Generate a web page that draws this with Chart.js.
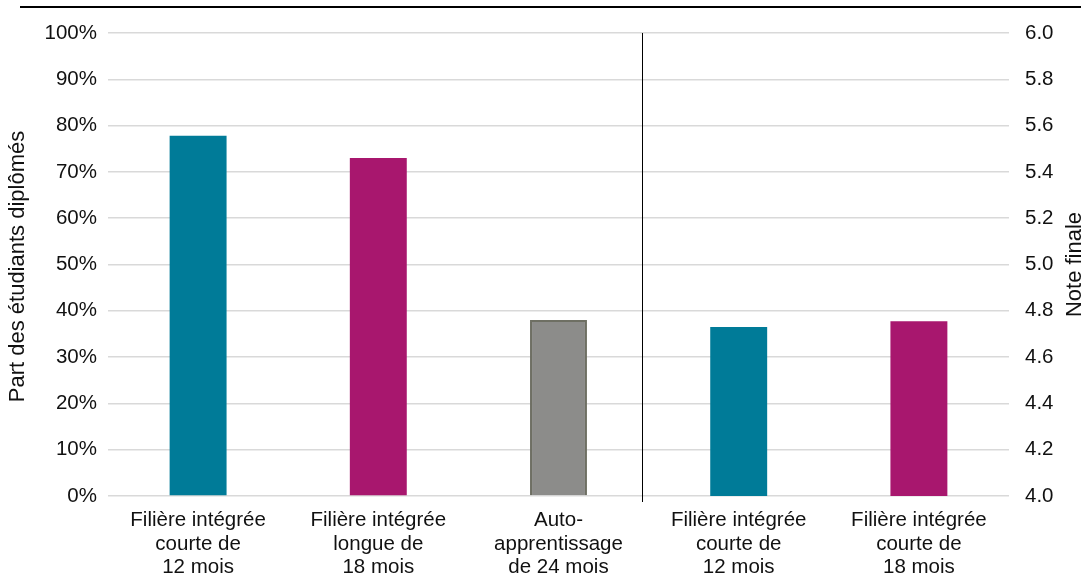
<!DOCTYPE html>
<html lang="fr">
<head>
<meta charset="utf-8">
<script src="https://cdn.jsdelivr.net/npm/chart.js@4.4.1/dist/chart.umd.min.js"></script>
<style>
  html, body { margin: 0; padding: 0; background: #fff; }
  #wrap { width: 1086px; height: 576px; position: relative; }
</style>
</head>
<body>
<div id="wrap"><canvas id="chart"></canvas></div>
<script>
const categories = [
    ['Filière intégrée', 'courte de', '12 mois'],
    ['Filière intégrée', 'longue de', '18 mois'],
    ['Auto-', 'apprentissage', 'de 24 mois'],
    ['Filière intégrée', 'courte de', '12 mois'],
    ['Filière intégrée', 'courte de', '18 mois']
];
const partDiplomes = [77.8, 73.0, 38.0, null, null];   // axe gauche (%)
const noteFinale = [null, null, null, 4.73, 4.755];    // axe droit (note)
const couleurs = ['#007b98', '#a8176e', '#8c8c8a', '#007b98', '#a8176e'];
const titreGauche = 'Part des étudiants diplômés';
const titreDroit = 'Note finale';

const police = 'Liberation Sans, Arial, sans-serif';
const texte = '#111';

// lignes de décor et titres d'axes
const decor = {
    id: 'decor',
    afterDraw(chart) {
        const ctx = chart.ctx;
        const area = chart.chartArea;
        const x = chart.scales.x;
        ctx.save();
        // filet en haut
        ctx.strokeStyle = '#000';
        ctx.lineWidth = 2;
        ctx.beginPath();
        ctx.moveTo(20, 7);
        ctx.lineTo(1081, 7);
        ctx.stroke();
        // séparateur vertical
        const sep = (x.getPixelForValue(2) + x.getPixelForValue(3)) / 2 - 7;
        ctx.lineWidth = 1;
        ctx.beginPath();
        ctx.moveTo(Math.round(sep) + 0.5, area.top);
        ctx.lineTo(Math.round(sep) + 0.5, area.bottom + 6);
        ctx.stroke();
        // titres d'axes
        ctx.fillStyle = texte;
        ctx.font = '22px ' + police;
        ctx.textAlign = 'center';
        ctx.textBaseline = 'middle';
        const cy = (area.top + area.bottom) / 2;
        ctx.translate(18, cy + 2);
        ctx.rotate(-Math.PI / 2);
        ctx.fillText(titreGauche, 0, 0);
        ctx.setTransform(1, 0, 0, 1, 0, 0);
        ctx.translate(1075, cy);
        ctx.rotate(-Math.PI / 2);
        ctx.fillText(titreDroit, 0, 0);
        ctx.restore();
    }
};

new Chart(document.getElementById('chart'), {
    type: 'bar',
    data: {
        labels: categories,
        datasets: [{
            data: partDiplomes,
            yAxisID: 'y',
            backgroundColor: couleurs,
            borderColor: ['rgba(0,0,0,0)', 'rgba(0,0,0,0)', '#6e6f63', 'rgba(0,0,0,0)', 'rgba(0,0,0,0)'],
            borderWidth: [0, 0, 2, 0, 0]
        }, {
            data: noteFinale,
            yAxisID: 'y1',
            backgroundColor: couleurs,
            borderWidth: 0
        }]
    },
    options: {
        responsive: true,
        maintainAspectRatio: false,
        animation: false,
        grouped: false,
        categoryPercentage: 1,
        barPercentage: 0.316,
        layout: { padding: { top: 33, left: 0, right: 0, bottom: 0 } },
        plugins: {
            legend: { display: false },
            tooltip: { enabled: false }
        },
        scales: {
            x: {
                grid: { display: false, drawTicks: false },
                border: { display: false },
                ticks: {
                    color: texte,
                    font: { family: police, size: 20.5, lineHeight: 1.14 },
                    padding: 13,
                    maxRotation: 0,
                    autoSkip: false
                },
                afterFit: s => { s.height = 80; }
            },
            y: {
                position: 'left',
                min: 0,
                max: 100,
                grid: { color: '#d9d9d9', lineWidth: 1.5, drawTicks: false },
                border: { display: false },
                ticks: {
                    stepSize: 10,
                    color: texte,
                    font: { family: police, size: 20.5 },
                    padding: 11,
                    callback: v => v + '%'
                },
                afterFit: s => { s.width = 108; }
            },
            y1: {
                position: 'right',
                min: 4,
                max: 6,
                grid: { display: false, drawTicks: false },
                border: { display: false },
                ticks: {
                    stepSize: 0.2,
                    color: texte,
                    font: { family: police, size: 20.5 },
                    padding: 16,
                    callback: v => v.toFixed(1)
                },
                afterFit: s => { s.width = 77; }
            }
        }
    },
    plugins: [decor]
});
</script>
</body>
</html>
